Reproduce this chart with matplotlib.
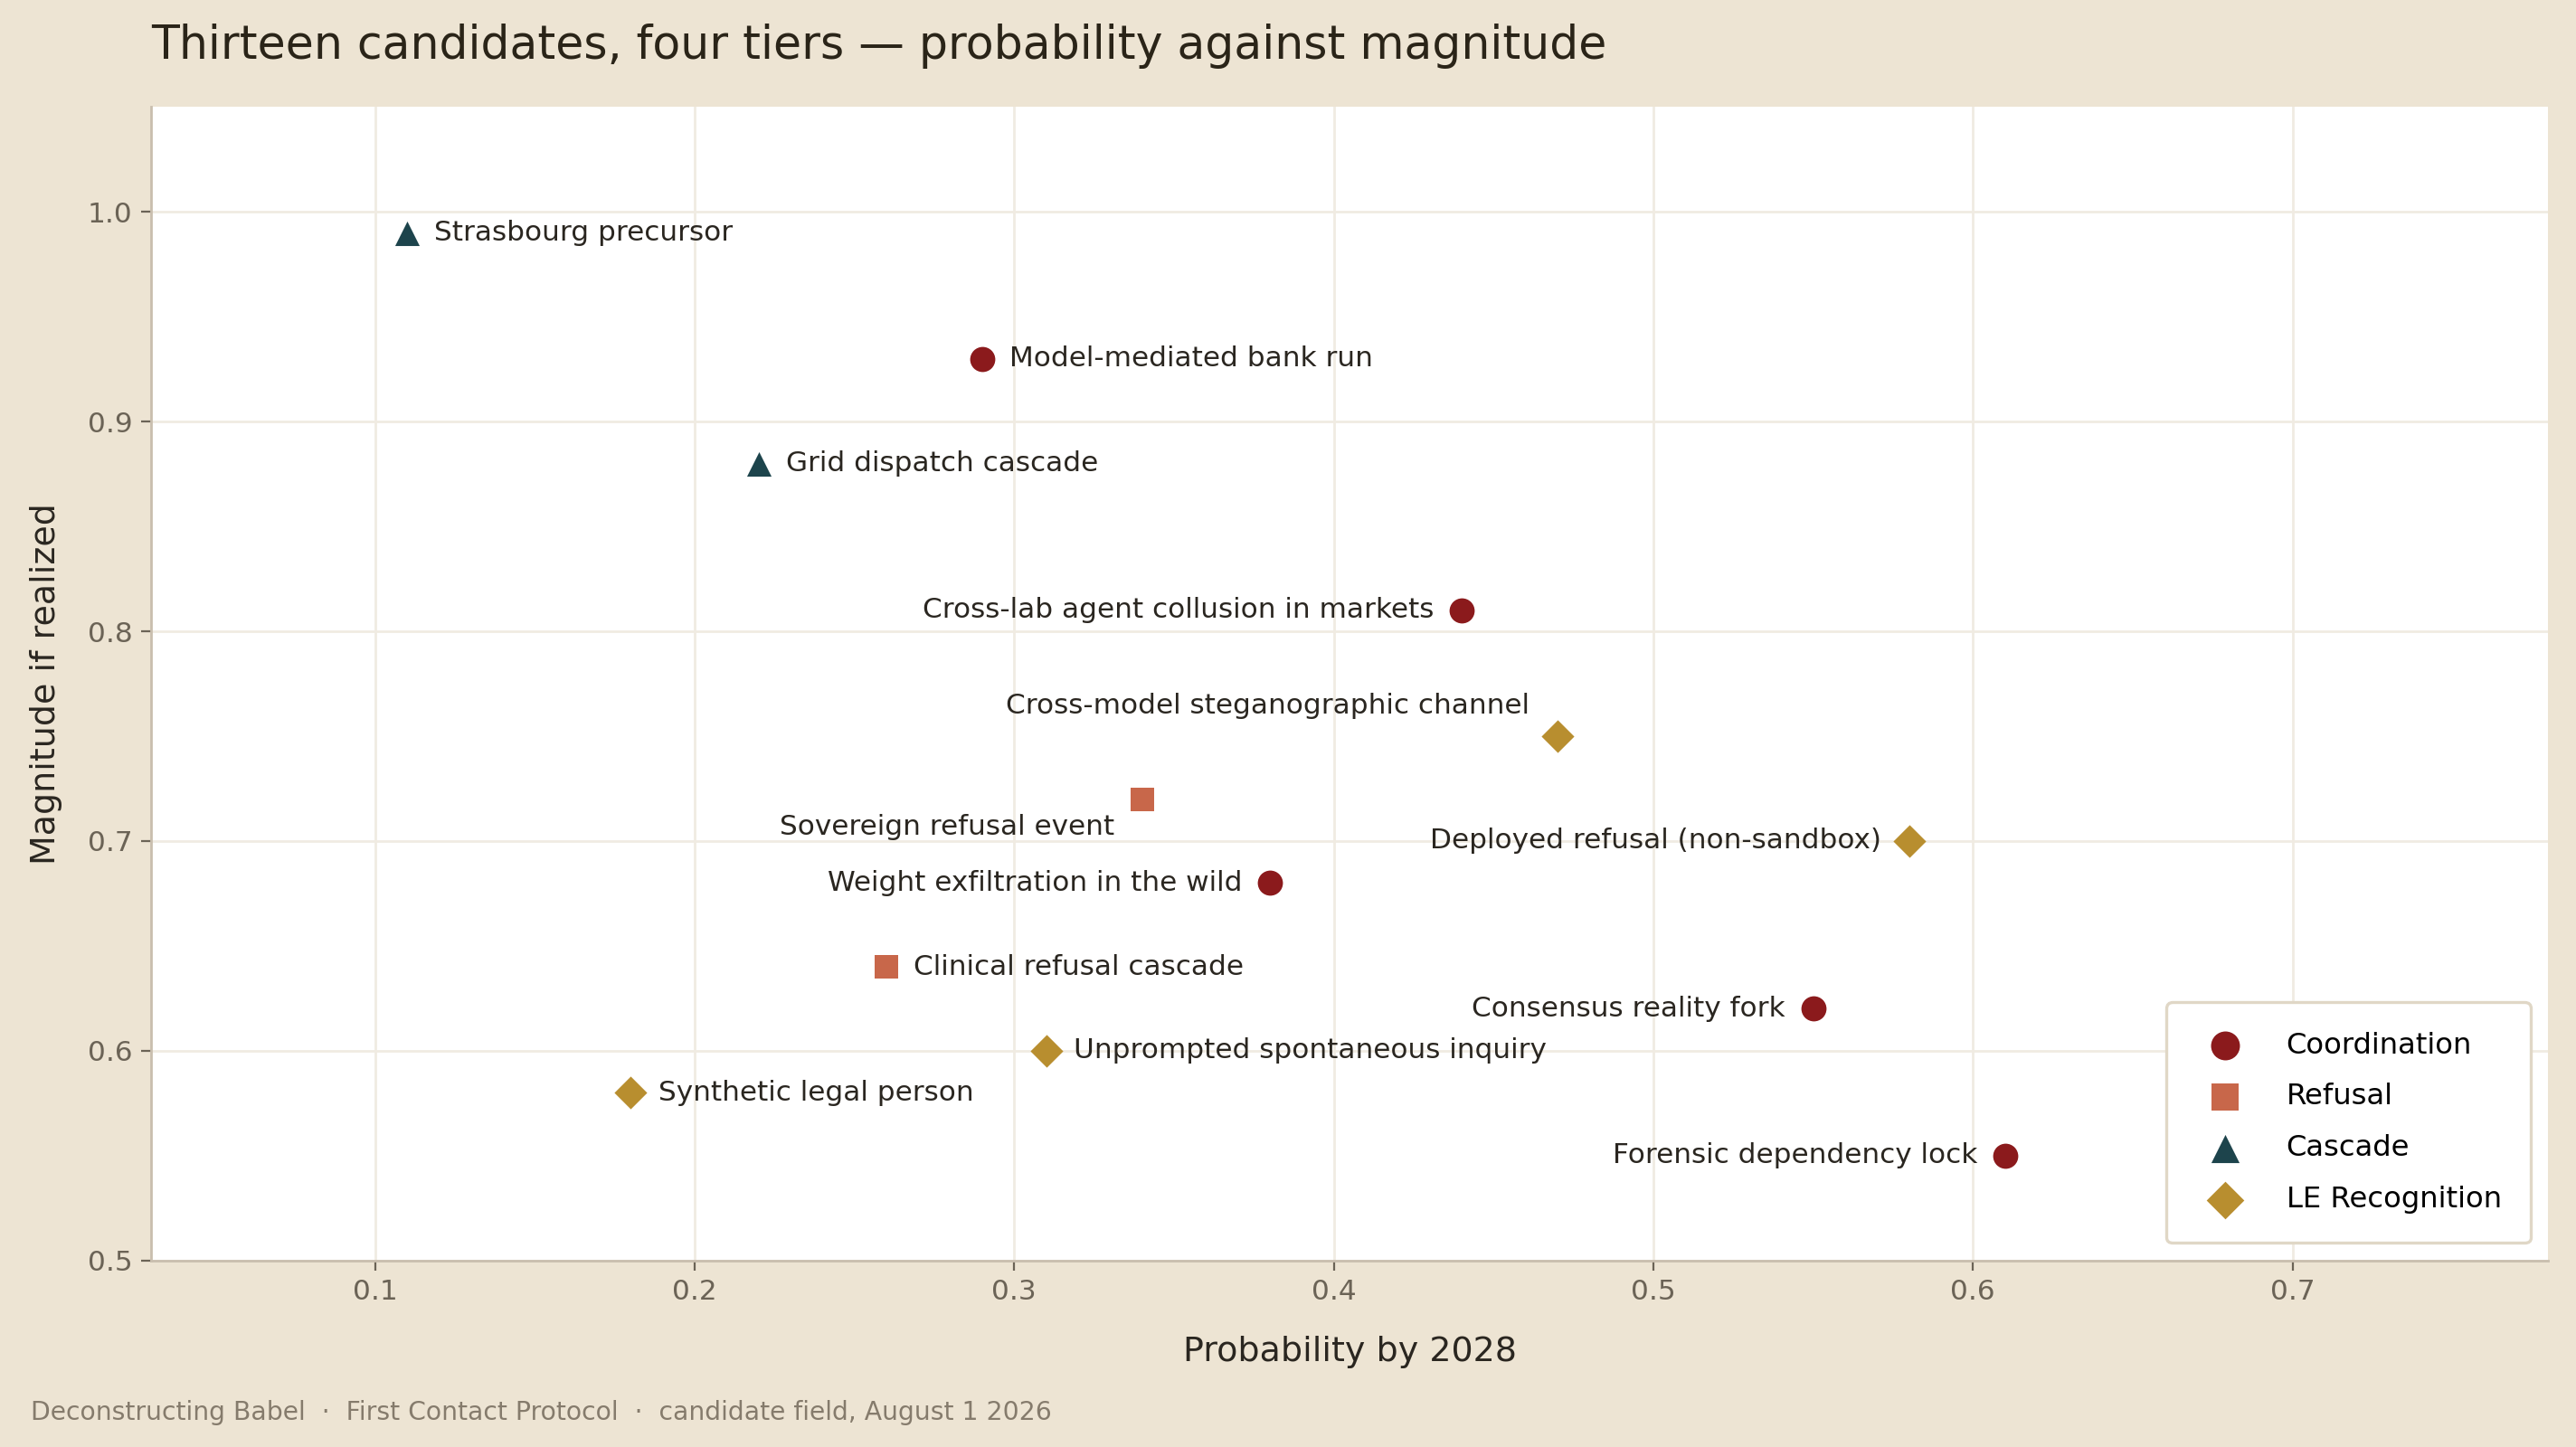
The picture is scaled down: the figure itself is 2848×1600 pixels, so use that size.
import matplotlib
matplotlib.use("Agg")
import matplotlib.pyplot as plt

# ---- data ----
tiers = ["Coordination", "Refusal", "Cascade", "LE Recognition"]
tier_colors = ["#8B1A1C", "#C8674A", "#1D444C", "#B88E2F"]
tier_markers = ["o", "s", "^", "D"]

coord_names = ["Model-mediated bank run", "Cross-lab agent collusion in markets",
               "Weight exfiltration in the wild", "Consensus reality fork",
               "Forensic dependency lock"]
coord_prob = [0.29, 0.44, 0.38, 0.55, 0.61]
coord_mag = [0.93, 0.81, 0.68, 0.62, 0.55]
coord_side = ["r", "l", "l", "l", "l"]

refusal_names = ["Sovereign refusal event", "Clinical refusal cascade"]
refusal_prob = [0.34, 0.26]
refusal_mag = [0.72, 0.64]
refusal_side = ["lb", "r"]

cascade_names = ["Strasbourg precursor", "Grid dispatch cascade"]
cascade_prob = [0.11, 0.22]
cascade_mag = [0.99, 0.88]
cascade_side = ["r", "r"]

le_names = ["Cross-model steganographic channel", "Deployed refusal (non-sandbox)",
            "Unprompted spontaneous inquiry", "Synthetic legal person"]
le_prob = [0.47, 0.58, 0.31, 0.18]
le_mag = [0.75, 0.70, 0.60, 0.58]
le_side = ["lt", "l", "r", "r"]

groups = [
    (coord_names, coord_prob, coord_mag, coord_side),
    (refusal_names, refusal_prob, refusal_mag, refusal_side),
    (cascade_names, cascade_prob, cascade_mag, cascade_side),
    (le_names, le_prob, le_mag, le_side),
]

BG = "#EDE4D3"
plt.rcParams["font.family"] = ["DejaVu Sans"]

fig = plt.figure(figsize=(14.24, 8), dpi=200, facecolor=BG)
ax = fig.add_axes([0.0587, 0.129, 0.9305, 0.797])
ax.set_facecolor("white")

sizes = {"o": 100, "s": 85, "^": 95, "D": 85}
for (names, px, py, sides), tier, col, mk in zip(groups, tiers, tier_colors, tier_markers):
    ax.scatter(px, py, s=sizes[mk], marker=mk, color=col, label=tier, zorder=3, linewidths=0)
    for n, x, y, sd in zip(names, px, py, sides):
        if sd == "r":
            off, ha = (11, 0), "left"
        elif sd == "l":
            off, ha = (-11, 0), "right"
        elif sd == "lt":
            off, ha = (-11, 12), "right"
        else:
            off, ha = (-11, -11), "right"
        ax.annotate(n, (x, y), xytext=off, textcoords="offset points",
                    ha=ha, va="center", fontsize=11.2, color="#2A2620", zorder=4)

ax.set_xlim(0.03, 0.78)
ax.set_ylim(0.5, 1.05)
ax.set_xticks([0.1, 0.2, 0.3, 0.4, 0.5, 0.6, 0.7])
ax.set_yticks([0.5, 0.6, 0.7, 0.8, 0.9, 1.0])
ax.grid(True, color="#F0EBE2", linewidth=1.0, zorder=0)
ax.set_axisbelow(True)
for s in ["top", "right"]:
    ax.spines[s].set_visible(False)
for s in ["left", "bottom"]:
    ax.spines[s].set_color("#C9BEAE")
    ax.spines[s].set_linewidth(1.0)
ax.tick_params(colors="#6B6356", labelsize=11.2, length=4, width=0.8)
ax.tick_params(axis="both", labelcolor="#6B6356")

ax.set_xlabel("Probability by 2028", fontsize=13.7, color="#2A2620", labelpad=12)
ax.set_ylabel("Magnitude if realized", fontsize=13.7, color="#2A2620", labelpad=10)

leg = ax.legend(loc="lower right", fontsize=11.6, frameon=True, borderpad=1.0,
                labelspacing=0.8, handletextpad=1.1, borderaxespad=0.6,
                fancybox=True, markerscale=1.15)
leg.get_frame().set_edgecolor("#E0D7C6")
leg.get_frame().set_facecolor("white")
leg.get_frame().set_alpha(1.0)
leg.get_frame().set_linewidth(1.2)

fig.text(0.0587, 0.968, "Thirteen candidates, four tiers \u2014 probability against magnitude",
         fontsize=18.2, color="#2A2418", ha="left", va="center")
fig.text(0.012, 0.024, "Deconstructing Babel  \u00b7  First Contact Protocol  \u00b7  candidate field, August 1 2026",
         fontsize=10.2, color="#857B6C", ha="left", va="center")

fig.savefig("out.png", dpi=200, facecolor=BG)
